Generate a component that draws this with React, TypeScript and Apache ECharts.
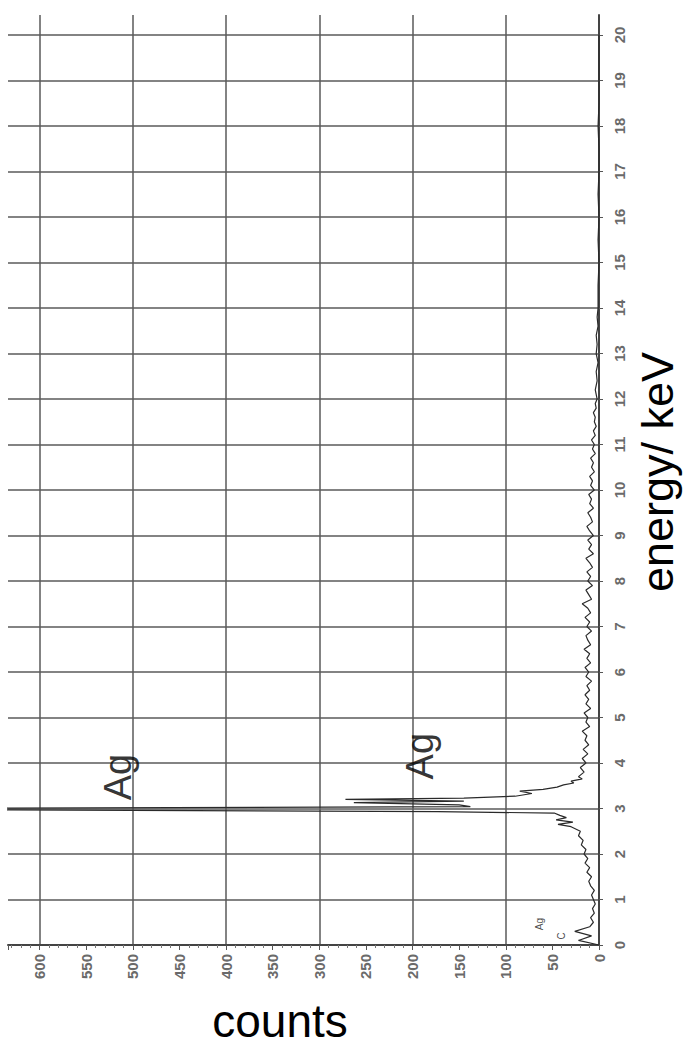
import React, { useEffect, useRef } from "react";
import * as echarts from "echarts";

// EDX spectrum (rotated view): energy in keV, counts
const energyKeV = [
  0.0, 0.1, 0.2, 0.3, 0.4, 0.5, 0.6, 0.7, 0.8, 0.9,
  1.0, 1.1, 1.2, 1.3, 1.4, 1.5, 1.6, 1.7, 1.8, 1.9,
  2.0, 2.1, 2.2, 2.3, 2.4, 2.5, 2.6, 2.65, 2.7, 2.75, 2.8, 2.85, 2.9,
  2.93, 2.97, 3.01, 3.04, 3.08, 3.13, 3.16, 3.2, 3.23, 3.27, 3.33, 3.38, 3.42, 3.47, 3.52, 3.56, 3.6, 3.65, 3.7, 3.8, 3.9,
  4.0, 4.1, 4.2, 4.3, 4.4, 4.5, 4.6, 4.7, 4.8, 4.9,
  5.0, 5.1, 5.2, 5.3, 5.4, 5.5, 5.6, 5.7, 5.8, 5.9,
  6.0, 6.1, 6.2, 6.3, 6.4, 6.5, 6.6, 6.7, 6.8, 6.9,
  7.0, 7.1, 7.2, 7.3, 7.4, 7.5, 7.6, 7.7, 7.8, 7.9,
  8.0, 8.1, 8.2, 8.3, 8.4, 8.5, 8.6, 8.7, 8.8, 8.9,
  9.0, 9.1, 9.2, 9.3, 9.4, 9.5, 9.6, 9.7, 9.8, 9.9,
  10.0, 10.1, 10.2, 10.3, 10.4, 10.5, 10.6, 10.7, 10.8, 10.9,
  11.0, 11.1, 11.2, 11.3, 11.4, 11.5, 11.6, 11.7, 11.8, 11.9,
  12.0, 12.2, 12.4, 12.6, 12.8, 13.0, 13.2, 13.4, 13.6, 13.8, 14.0,
  14.5, 15.0, 15.5, 16.0, 16.5, 17.0, 17.5, 18.0, 18.5, 19.0, 19.5, 20.0,
];
const counts = [
  0, 22, 8, 26, 10, 6, 9, 5, 7, 4,
  6, 8, 5, 9, 11, 8, 13, 10, 15, 12,
  16, 14, 19, 17, 22, 20, 30, 44, 28, 46, 35, 42, 48,
  173, 650, 640, 138, 150, 263, 145, 272, 145, 90, 72, 85, 60, 45, 38, 27, 30, 18, 22, 16, 20,
  14, 18, 12, 17, 11, 15, 13, 18, 10, 14,
  12, 16, 9, 14, 11, 15, 10, 13, 8, 14,
  11, 15, 9, 13, 10, 16, 9, 12, 14, 8,
  13, 10, 15, 9, 12, 18, 8, 11, 14, 7,
  12, 9, 13, 7, 10, 14, 6, 11, 8, 12,
  6, 10, 13, 7, 9, 12, 6, 10, 8, 11,
  5, 9, 7, 10, 5, 8, 6, 9, 4, 7,
  5, 8, 4, 6, 3, 5, 4, 6, 3, 4,
  2, 4, 2, 3, 1, 3, 2, 3, 1, 2, 1,
  1, 0, 1, 0, 1, 0, 0, 1, 0, 0, 0, 0,
];

// Peak annotations
const peakLabels = ["Ag", "Ag"];
const peakLabelCounts = [516, 192];
const peakLabelEnergy = [3.69, 4.15];

// Small element markers near the origin
const markerLabels = ["Ag", "C"];
const markerCounts = [64, 40];
const markerEnergy = [0.46, 0.2];

const countsMax = 634;
const energyMax = 20.44;

export default function App() {
  const ref = useRef<HTMLDivElement>(null);
  useEffect(() => {
    if (!ref.current) return;
    const chart = echarts.init(ref.current, null, { renderer: "svg" });
    const font = "'Liberation Sans', Arial, sans-serif";
    const spectrum = energyKeV.map((e, i) => [counts[i], e]);
    chart.setOption({
      animation: false,
      backgroundColor: "#ffffff",
      grid: { left: 8, right: 85, top: 15, bottom: 101, containLabel: false },
      xAxis: [
        {
          type: "value",
          min: 0,
          max: countsMax,
          inverse: true,
          interval: 100,
          position: "bottom",
          axisLine: { show: false },
          axisTick: { show: false },
          axisLabel: { show: false },
          splitLine: {
            show: true,
            showMinLine: false,
            showMaxLine: false,
            lineStyle: { color: "#5a5a5a", width: 1.5 },
          },
        },
        {
          type: "value",
          min: 0,
          max: countsMax,
          inverse: true,
          interval: 50,
          position: "bottom",
          axisLine: { show: true, onZero: false, lineStyle: { color: "#444", width: 2 } },
          axisTick: { show: true, length: 5, lineStyle: { color: "#555", width: 1 } },
          minorTick: { show: true, splitNumber: 5, length: 3, lineStyle: { color: "#777", width: 1 } },
          axisLabel: {
            rotate: 90,
            margin: 9,
            fontSize: 15,
            fontWeight: "bold",
            color: "#6a6a6a",
            fontFamily: font,
            showMaxLabel: false,
            formatter: (v: number) => (v % 50 === 0 ? String(v) : ""),
          },
          splitLine: { show: false },
        },
      ],
      yAxis: [
        {
          type: "value",
          min: 0,
          max: energyMax,
          interval: 1,
          position: "right",
          axisLine: { show: true, onZero: false, lineStyle: { color: "#444", width: 2 } },
          axisTick: { show: true, length: 4, lineStyle: { color: "#555", width: 1 } },
          axisLabel: {
            rotate: 90,
            margin: 13,
            fontSize: 15,
            fontWeight: "bold",
            color: "#6a6a6a",
            fontFamily: font,
            showMaxLabel: false,
            formatter: (v: number) => (Number.isInteger(v) ? String(v) : ""),
          },
          splitLine: {
            show: true,
            showMinLine: false,
            showMaxLine: false,
            lineStyle: { color: "#5a5a5a", width: 1.5 },
          },
        },
      ],
      series: [
        {
          type: "line",
          xAxisIndex: 0,
          yAxisIndex: 0,
          data: spectrum,
          symbol: "none",
          clip: true,
          lineStyle: { color: "#2a2a2a", width: 1.2 },
          silent: true,
          z: 3,
        },
        {
          type: "scatter",
          xAxisIndex: 0,
          yAxisIndex: 0,
          symbolSize: 1,
          itemStyle: { color: "transparent" },
          silent: true,
          z: 4,
          data: peakLabels.map((t, i) => ({
            value: [peakLabelCounts[i], peakLabelEnergy[i]],
            label: { formatter: t },
          })),
          label: {
            show: true,
            position: "inside",
            rotate: 90,
            fontSize: 38,
            color: "#000",
            fontFamily: font,
          },
        },
        {
          type: "scatter",
          xAxisIndex: 0,
          yAxisIndex: 0,
          symbolSize: 1,
          itemStyle: { color: "transparent" },
          silent: true,
          z: 4,
          data: markerLabels.map((t, i) => ({
            value: [markerCounts[i], markerEnergy[i]],
            label: { formatter: t },
          })),
          label: {
            show: true,
            position: "inside",
            rotate: 90,
            fontSize: 10,
            color: "#222",
            fontFamily: font,
          },
        },
      ],
      graphic: [
        {
          type: "text",
          x: 280,
          y: 1021,
          style: {
            text: "counts",
            font: "46px 'Liberation Sans', Arial, sans-serif",
            fill: "#000",
            align: "center",
            verticalAlign: "middle",
          },
        },
        {
          type: "text",
          x: 657,
          y: 472,
          rotation: Math.PI / 2,
          style: {
            text: "energy/ keV",
            font: "45px 'Liberation Sans', Arial, sans-serif",
            fill: "#000",
            align: "center",
            verticalAlign: "middle",
          },
        },
      ],
    });
    return () => chart.dispose();
  }, []);
  return (
    <div
      ref={ref}
      style={{ position: "absolute", left: 0, top: 0, width: 684, height: 1046 }}
    />
  );
}
